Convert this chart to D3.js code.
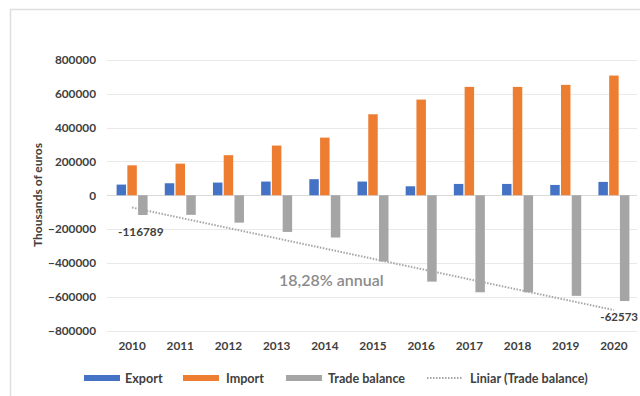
<!DOCTYPE html>
<html><head><meta charset="utf-8">
<script src="https://cdn.jsdelivr.net/npm/d3@7"></script>
<style>html,body{margin:0;padding:0;background:#fff;overflow:hidden}</style>
</head><body>
<svg id="c" width="640" height="396"></svg>
<script>
const years = ["2010","2011","2012","2013","2014","2015","2016","2017","2018","2019","2020"];
const exportVals = [63000, 71000, 75000, 81000, 95000, 81000, 53000, 67000, 67000, 61000, 79000];
const importVals = [177000, 187000, 237000, 294000, 341000, 479000, 566000, 641000, 641000, 653000, 708000];
const balanceVals = [-116789, -116000, -162000, -217000, -250000, -392000, -511000, -574000, -574000, -595000, -625730];
const yTicks = [800000, 600000, 400000, 200000, 0, -200000, -400000, -600000, -800000];
const seriesNames = ["Export", "Import", "Trade balance"];
const colors = ["#4472C4", "#ED7D31", "#A5A5A5"];
const balanceLabels = [{i:0, text:"-116789"}, {i:10, text:"-62573"}];
const annotation = "18,28% annual";

const svg = d3.select("#c");
const font = "Lato, 'Open Sans', sans-serif";

// frame
svg.append("rect").attr("x",10.5).attr("y",9.5).attr("width",700).attr("height",400)
  .attr("fill","none").attr("stroke","#dedede").attr("stroke-width",1.5);

const x = d3.scaleBand().domain(years).range([108, 638]).padding(0);
const xs = d3.scaleBand().domain(seriesNames).range([-15.5, 15.5]).paddingInner(0.12);
const y = d3.scaleLinear().domain([-800000, 800000]).range([330.5, 60]);

// gridlines
svg.append("g").selectAll("line").data(yTicks).join("line")
  .attr("x1",107).attr("x2",637)
  .attr("y1",d=>Math.round(y(d))+0.5).attr("y2",d=>Math.round(y(d))+0.5)
  .attr("stroke",d=>d===0?"#d9d9d9":"#e9e9e9").attr("stroke-width",1);

// y axis tick labels
const yAxis = d3.axisLeft(y).tickValues(yTicks).tickSize(0).tickPadding(0).tickFormat(d3.format("d"));
const gy = svg.append("g").attr("transform","translate(96,0)").call(yAxis);
gy.select(".domain").remove();
gy.selectAll("text").attr("font-family",font).attr("font-weight","bold").attr("font-size","11.8px").attr("fill","#404040");

// x axis labels
const xAxis = d3.axisBottom(x).tickSize(0).tickPadding(0);
const gx = svg.append("g").attr("transform","translate(0,342)").call(xAxis);
gx.select(".domain").remove();
gx.selectAll("text").attr("font-family",font).attr("font-weight","bold").attr("font-size","11.8px").attr("fill","#404040");

// bars
const allSeries = [exportVals, importVals, balanceVals];
allSeries.forEach((vals, si) => {
  svg.append("g").selectAll("rect").data(vals).join("rect")
    .attr("x",(d,i)=>x(years[i]) + x.bandwidth()/2 + xs(seriesNames[si]))
    .attr("width",xs.bandwidth())
    .attr("y",d=>Math.min(y(d), y(0)))
    .attr("height",d=>Math.abs(y(d)-y(0)))
    .attr("fill",colors[si]);
});

// linear trendline (least squares over balance)
const n = balanceVals.length;
const mx = d3.mean(d3.range(n)), my = d3.mean(balanceVals);
let sxy=0, sxx=0;
balanceVals.forEach((v,i)=>{ sxy += (i-mx)*(v-my); sxx += (i-mx)*(i-mx); });
const slope = sxy/sxx, icpt = my - slope*mx;
const cx = i => x(years[i]) + x.bandwidth()/2;
svg.append("line")
  .attr("x1",cx(0)).attr("y1",y(icpt))
  .attr("x2",cx(n-1)).attr("y2",y(icpt+slope*(n-1)))
  .attr("stroke","#a6a6a6").attr("stroke-width",2).attr("stroke-dasharray","1.5,1.5");

// data labels
svg.append("text").attr("x",cx(0)-14).attr("y",y(balanceVals[0])+21)
  .attr("font-family",font).attr("font-weight","bold").attr("font-size","11.8px").attr("fill","#404040")
  .text(balanceLabels[0].text);
svg.append("text").attr("x",638).attr("text-anchor","end").attr("y",y(balanceVals[10])+20)
  .attr("font-family",font).attr("font-weight","bold").attr("font-size","11.5px").attr("fill","#404040")
  .text(balanceLabels[1].text);

// annotation
svg.append("text").attr("x",279).attr("y",286)
  .attr("font-family",font).attr("font-size","16px").attr("fill","#8c8c8c").attr("font-weight","600")
  .text(annotation);

// y title
svg.append("text").attr("transform","translate(42,195) rotate(-90)").attr("text-anchor","middle")
  .attr("font-family",font).attr("font-weight","bold").attr("font-size","12px").attr("fill","#404040")
  .text("Thousands of euros");

// legend
const legend = [
  {label:"Export", x:84, type:"rect", color:colors[0], tx:125},
  {label:"Import", x:183, type:"rect", color:colors[1], tx:226},
  {label:"Trade balance", x:286, type:"rect", color:colors[2], tx:328},
  {label:"Liniar (Trade balance)", x:427, type:"dot", color:"#a6a6a6", tx:470}
];
const lg = svg.append("g");
legend.forEach(l => {
  if (l.type==="rect") lg.append("rect").attr("x",l.x).attr("y",375).attr("width",36).attr("height",6).attr("fill",l.color);
  else lg.append("line").attr("x1",l.x).attr("x2",l.x+36).attr("y1",378).attr("y2",378)
      .attr("stroke",l.color).attr("stroke-width",2).attr("stroke-dasharray","1.5,1.5");
  lg.append("text").attr("x",l.tx).attr("y",382.5).attr("font-family",font).attr("font-weight","bold")
    .attr("font-size","12.6px").attr("fill","#404040").text(l.label);
});
</script>
</body></html>
